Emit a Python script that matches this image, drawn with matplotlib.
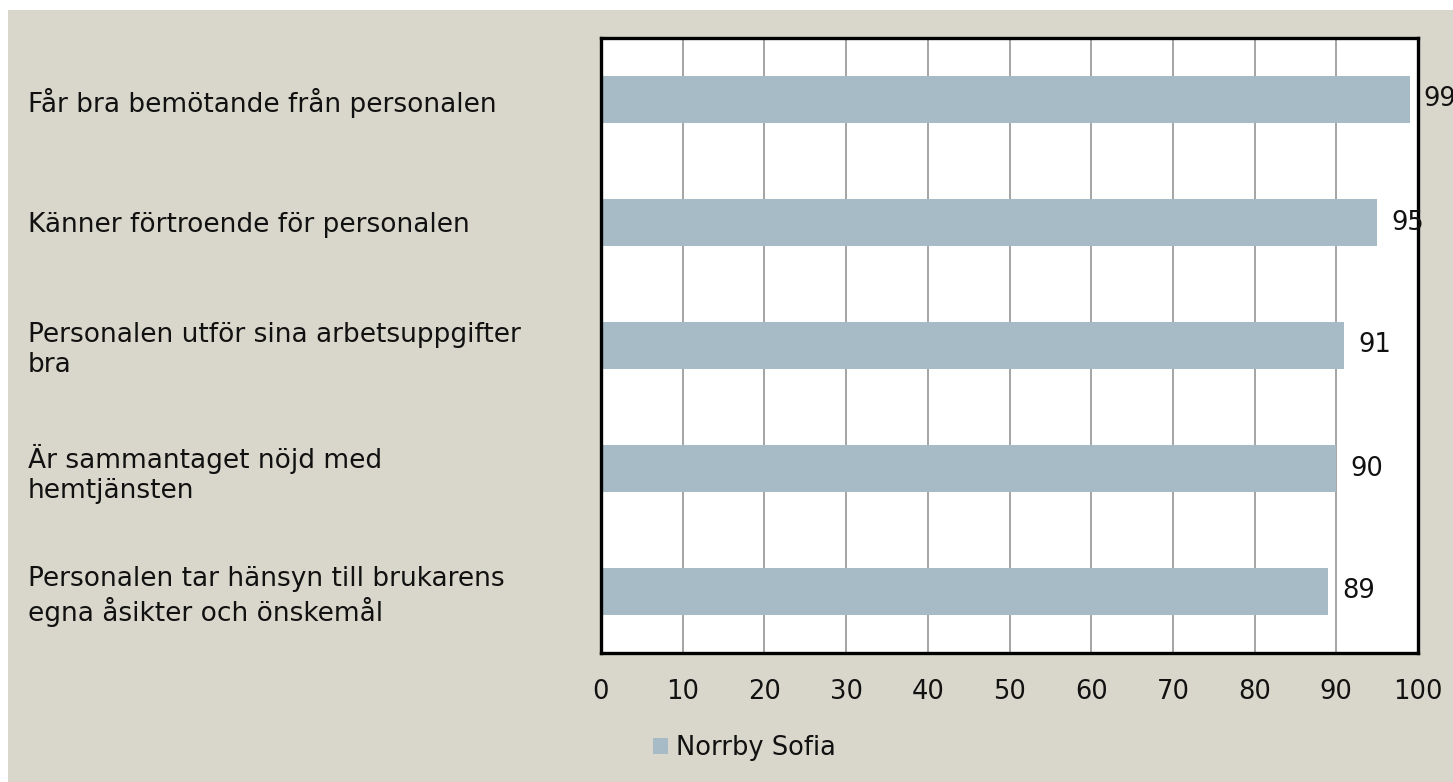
import matplotlib
matplotlib.use("Agg")
import matplotlib.pyplot as plt
from matplotlib.patches import Rectangle, Patch

categories = [
    "Får bra bemötande från personalen",
    "Känner förtroende för personalen",
    "Personalen utför sina arbetsuppgifter\nbra",
    "Är sammantaget nöjd med\nhemtjänsten",
    "Personalen tar hänsyn till brukarens\negna åsikter och önskemål",
]
values = [99, 95, 91, 90, 89]
series_name = "Norrby Sofia"
xticks = [0, 10, 20, 30, 40, 50, 60, 70, 80, 90, 100]

BG = "#D9D7CB"
BAR = "#A7BBC6"
TXT = "#111111"
FS = 18.5
FS_CAT = 19

W, H = 1453, 782
fig = plt.figure(figsize=(W / 100, H / 100), dpi=100, facecolor="white")
fig.patches.append(Rectangle((8 / W, 0), 1, 1 - 10 / H, transform=fig.transFigure,
                             facecolor=BG, edgecolor="none", zorder=-10))

ax = fig.add_axes([601 / W, 1 - 653 / H, (1418 - 601) / W, (653 - 38) / H])
ax.set_facecolor("white")

pos = list(range(len(categories)))
bars = ax.barh(pos, values, height=0.39, color=BAR, zorder=2)
ax.set_xlim(0, 100)
ax.set_ylim(len(categories) - 0.5, -0.5)

ax.set_xticks(xticks)
ax.set_xticklabels([str(t) for t in xticks], fontsize=FS, color=TXT)
ax.tick_params(axis="x", length=0, pad=19)
ax.xaxis.grid(True, color="#8C8C8C", linewidth=1.1, zorder=1)
ax.set_axisbelow(True)

ax.set_yticks(pos)
ax.set_yticklabels(categories, fontsize=FS_CAT, color=TXT, ha="left", multialignment="left")
ax.tick_params(axis="y", length=0, pad=(601 - 28) * 72 / 100)

for s in ax.spines.values():
    s.set_color("black")
    s.set_linewidth(2.4)
    s.set_zorder(5)

for b, v in zip(bars, values):
    ax.annotate(str(v), xy=(b.get_width(), b.get_y() + b.get_height() / 2),
                xytext=(10, 0), textcoords="offset points", va="center", ha="left",
                fontsize=FS, color=TXT, annotation_clip=False, zorder=6)

fig.legend(handles=[Patch(facecolor=BAR, edgecolor="none", label=series_name)],
           loc="center", bbox_to_anchor=(744 / W, 1 - 748 / H), frameon=False,
           fontsize=FS, handlelength=0.6, handleheight=0.6, handletextpad=0.3,
           labelcolor=TXT)

fig.savefig("out.png", dpi=100, facecolor="white")
